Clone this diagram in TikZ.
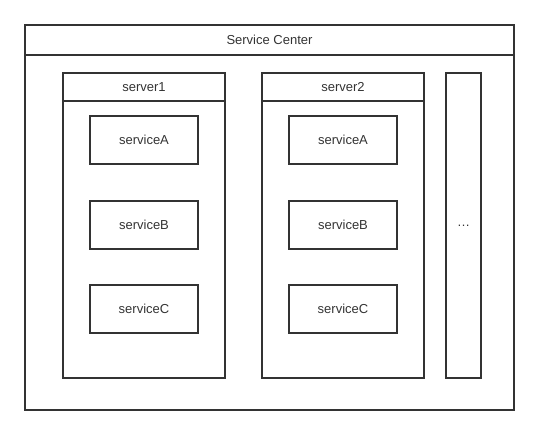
\documentclass[tikz,border=0pt]{standalone}
\usepackage{fontspec}
\setmainfont{Liberation Sans}
\usetikzlibrary{positioning}
\definecolor{linegray}{RGB}{51,51,51}

\begin{document}
\begin{tikzpicture}[
    x=1pt, y=-1pt,
    node distance=15pt,
    % Node styles
    box/.style={rectangle, draw=linegray, line width=2pt, inner sep=0pt, outer sep=0pt,
                text=linegray, font=\fontsize{13}{15}\selectfont},
    centerbox/.style={box, minimum width=489pt, minimum height=385pt, anchor=north west},
    titlebar/.style={box, minimum width=489pt, minimum height=30pt, anchor=north west},
    serverbox/.style={box, minimum width=162pt, minimum height=305pt, anchor=north west},
    serverhead/.style={box, minimum width=162pt, minimum height=28pt, anchor=north west},
    svc/.style={box, minimum width=108pt, minimum height=48pt}
]
\useasboundingbox (0,0) rectangle (539,435);

% Service center frame
\node (center) [centerbox] at (25,25) {};
\node (title) [titlebar] at (center.north west) {Service Center};

% server1
\node (server1) [serverbox] at (63,73) {};
\node (server1head) [serverhead] at (server1.north west) {server1};
\node (s1a) [svc, below=15pt of server1head] {serviceA};
\node (s1b) [svc, below=37pt of s1a] {serviceB};
\node (s1c) [svc, below=36pt of s1b] {serviceC};

% server2
\node (server2) [serverbox] at (262,73) {};
\node (server2head) [serverhead] at (server2.north west) {server2};
\node (s2a) [svc, below=15pt of server2head] {serviceA};
\node (s2b) [svc, below=37pt of s2a] {serviceB};
\node (s2c) [svc, below=36pt of s2b] {serviceC};

% more servers
\node (more) [box, minimum width=35pt, minimum height=305pt, anchor=north west] at (446,73) {\dots};

\end{tikzpicture}
\end{document}
